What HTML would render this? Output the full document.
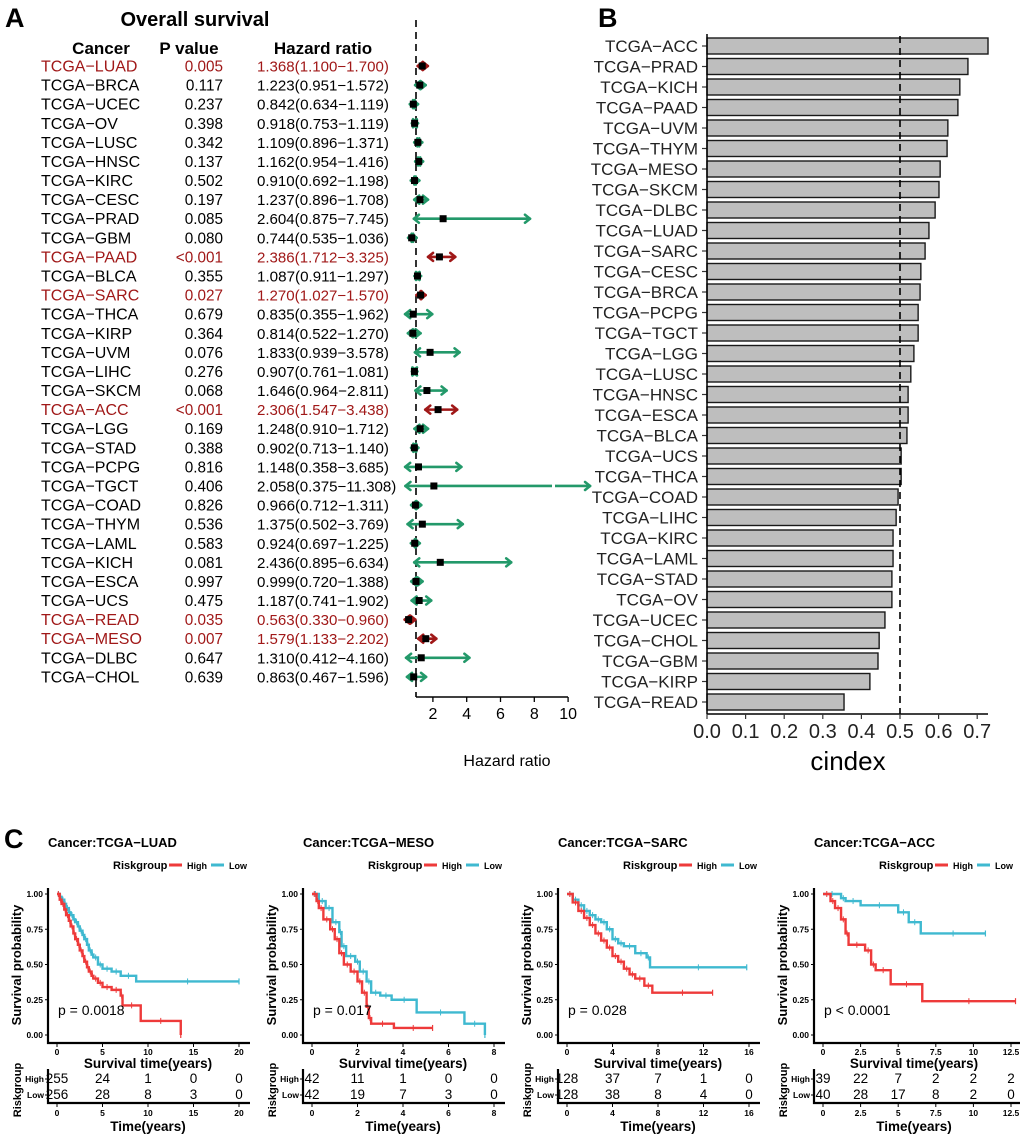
<!DOCTYPE html>
<html><head><meta charset="utf-8">
<style>
html,body{margin:0;padding:0;background:#fff;}
svg{display:block;font-family:"Liberation Sans",Arial,sans-serif;}
</style></head>
<body>
<svg id="fig" width="1020" height="1135" viewBox="0 0 1020 1135" xmlns="http://www.w3.org/2000/svg"></svg>
<script>
// ---------- Panel A data ----------
const cancersA = ['LUAD','BRCA','UCEC','OV','LUSC','HNSC','KIRC','CESC','PRAD','GBM','PAAD','BLCA','SARC','THCA','KIRP','UVM','LIHC','SKCM','ACC','LGG','STAD','PCPG','TGCT','COAD','THYM','LAML','KICH','ESCA','UCS','READ','MESO','DLBC','CHOL'];
const pvalsA = ['0.005','0.117','0.237','0.398','0.342','0.137','0.502','0.197','0.085','0.080','<0.001','0.355','0.027','0.679','0.364','0.076','0.276','0.068','<0.001','0.169','0.388','0.816','0.406','0.826','0.536','0.583','0.081','0.997','0.475','0.035','0.007','0.647','0.639'];
const hrA = [1.368,1.223,0.842,0.918,1.109,1.162,0.910,1.237,2.604,0.744,2.386,1.087,1.270,0.835,0.814,1.833,0.907,1.646,2.306,1.248,0.902,1.148,2.058,0.966,1.375,0.924,2.436,0.999,1.187,0.563,1.579,1.310,0.863];
const loA = [1.100,0.951,0.634,0.753,0.896,0.954,0.692,0.896,0.875,0.535,1.712,0.911,1.027,0.355,0.522,0.939,0.761,0.964,1.547,0.910,0.713,0.358,0.375,0.712,0.502,0.697,0.895,0.720,0.741,0.330,1.133,0.412,0.467];
const hiA = [1.700,1.572,1.119,1.119,1.371,1.416,1.198,1.708,7.745,1.036,3.325,1.297,1.570,1.962,1.270,3.578,1.081,2.811,3.438,1.712,1.140,3.685,11.308,1.311,3.769,1.225,6.634,1.388,1.902,0.960,2.202,4.160,1.596];
const hrTicks = [2,4,6,8,10];
// ---------- Panel B data ----------
const cancersB = ['ACC','PRAD','KICH','PAAD','UVM','THYM','MESO','SKCM','DLBC','LUAD','SARC','CESC','BRCA','PCPG','TGCT','LGG','LUSC','HNSC','ESCA','BLCA','UCS','THCA','COAD','LIHC','KIRC','LAML','STAD','OV','UCEC','CHOL','GBM','KIRP','READ'];
const cindexB = [0.728,0.676,0.655,0.650,0.624,0.622,0.604,0.601,0.591,0.575,0.565,0.554,0.552,0.547,0.547,0.536,0.528,0.521,0.521,0.518,0.503,0.503,0.495,0.490,0.482,0.482,0.479,0.479,0.461,0.446,0.443,0.422,0.355];
const cTicks = [0,0.1,0.2,0.3,0.4,0.5,0.6,0.7];
// ---------- Panel C data ----------
const kmTitles = ['TCGA-LUAD','TCGA-MESO','TCGA-SARC','TCGA-ACC'];
const kmPvals = ['p = 0.0018','p = 0.017','p = 0.028','p < 0.0001'];
const kmXmax = [20,8,16,12.5];
const kmXticks = [[0,5,10,15,20],[0,2,4,6,8],[0,4,8,12,16],[0,2.5,5,7.5,10,12.5]];
const riskHigh = [[255,24,1,0,0],[42,11,1,0,0],[128,37,7,1,0],[39,22,7,2,2,2]];
const riskLow = [[256,28,8,3,0],[42,19,7,3,0],[128,38,8,4,0],[40,28,17,8,2,0]];
const luadHighT=[0,0.3,0.5,0.8,1,1.3,1.5,1.8,2,2.3,2.5,2.8,3,3.3,3.5,3.8,4,4.5,5,6,7,7.2,9.2,13.6], luadHighS=[1,0.96,0.93,0.89,0.85,0.81,0.77,0.72,0.68,0.64,0.6,0.56,0.52,0.48,0.45,0.42,0.4,0.37,0.34,0.32,0.28,0.21,0.1,0];
const luadLowT=[0,0.3,0.5,0.8,1,1.3,1.5,1.8,2,2.3,2.5,2.8,3,3.3,3.5,3.8,4,4.5,5,6,7,8.7,20], luadLowS=[1,0.98,0.96,0.93,0.9,0.87,0.85,0.82,0.8,0.77,0.74,0.71,0.68,0.64,0.6,0.57,0.55,0.5,0.47,0.45,0.42,0.38,0.38];
const mesoHighT=[0,0.2,0.3,0.5,0.8,1,1.2,1.4,1.7,2,2.2,2.4,2.5,2.6,3.6,5.3], mesoHighS=[1,0.95,0.9,0.82,0.75,0.68,0.58,0.5,0.45,0.38,0.3,0.2,0.12,0.08,0.05,0.05];
const mesoLowT=[0,0.3,0.6,0.9,1.2,1.3,1.5,1.9,2.1,2.4,2.6,3,3.5,4.6,6.7,7.6], mesoLowS=[1,0.95,0.9,0.8,0.73,0.63,0.56,0.52,0.45,0.38,0.3,0.28,0.25,0.16,0.08,0];
const sarcHighT=[0,0.5,1,1.5,2,2.5,3,3.5,4,4.5,5,5.5,6,6.8,7.5,12.8], sarcHighS=[1,0.94,0.88,0.83,0.78,0.72,0.67,0.62,0.56,0.52,0.47,0.43,0.4,0.35,0.3,0.3];
const sarcLowT=[0,0.5,1,1.5,2,2.5,3,3.5,4,4.5,5,6,7,7.3,15.8], sarcLowS=[1,0.96,0.92,0.88,0.85,0.82,0.8,0.75,0.68,0.65,0.63,0.58,0.55,0.48,0.48];
const accHighT=[0,0.5,0.8,1.2,1.5,1.7,2.8,3.2,3.5,4.5,6.6,12.8], accHighS=[1,0.95,0.9,0.82,0.72,0.64,0.6,0.5,0.46,0.36,0.24,0.24];
const accLowT=[0,1.2,1.5,2.5,5,5.7,6.5,10.8], accLowS=[1,0.97,0.95,0.92,0.87,0.8,0.72,0.72];
const kmHigh=[[luadHighT,luadHighS],[mesoHighT,mesoHighS],[sarcHighT,sarcHighS],[accHighT,accHighS]];
const kmLow=[[luadLowT,luadLowS],[mesoLowT,mesoLowS],[sarcLowT,sarcLowS],[accLowT,accLowS]];

const NS='http://www.w3.org/2000/svg';
const svg=document.getElementById('fig');
function mk(tag,attrs,parent){const e=document.createElementNS(NS,tag);for(const k in attrs)e.setAttribute(k,attrs[k]);(parent||svg).appendChild(e);return e;}
function tx(str,attrs,parent){const e=mk('text',attrs,parent);e.textContent=str;return e;}
const M='\u2212';
const RED='#A01818', GREEN='#23996A';

// ================= PANEL A =================
const gA=mk('g',{});


let t;
t=tx('A',{x:5,y:27,'font-size':27,'font-weight':'bold'},gA);


t=tx('Overall survival',{x:195,y:26,'font-size':20,'font-weight':'bold','text-anchor':'middle'},gA);


t=tx('Cancer',{x:101,y:54,'font-size':17,'font-weight':'bold','text-anchor':'middle'},gA);


t=tx('P value',{x:189,y:54,'font-size':17,'font-weight':'bold','text-anchor':'middle'},gA);


t=tx('Hazard ratio',{x:323,y:54,'font-size':17,'font-weight':'bold','text-anchor':'middle'},gA);



const rowY=i=>66+i*19.09;
const hx=v=>416+(v-1)*16.9;
const fmt=v=>v.toFixed(3);
let ln=mk('line',{x1:416,y1:20,x2:416,y2:697,stroke:'#000','stroke-width':1.6,'stroke-dasharray':'7,5'},gA);


cancersA.forEach((c,i)=>{
  const p=pvalsA[i];
  const sig=p.startsWith('<')||parseFloat(p)<0.05;
  const col=sig?RED:'#000';
  const y=rowY(i);
  let e=tx('TCGA'+M+c,{x:41,y:y+5.5,'font-size':16,fill:col},gA);
  
  
  e=tx(p,{x:223,y:y+5.5,'font-size':15.3,'text-anchor':'end',fill:col},gA);
  
  
  const s=fmt(hrA[i])+'('+fmt(loA[i])+M+fmt(hiA[i])+')';
  e=tx(s,{x:257,y:y+5.5,'font-size':15,fill:col,textLength:(s.length*7.33).toFixed(1),lengthAdjust:'spacingAndGlyphs'},gA);
  
  
  const mc=sig?RED:GREEN;
  const x1=hx(loA[i]), x2=hx(Math.min(hiA[i],11.3)), xm=hx(hrA[i]);
  const g=mk('g',{stroke:mc,'stroke-width':2.6,fill:'none','stroke-linecap':'round','stroke-linejoin':'round'},gA);
  
  
  mk('line',{x1:x1,y1:y,x2:x2,y2:y},g);
  mk('path',{d:`M${x2-5},${y-4} L${x2},${y} L${x2-5},${y+4}`},g);
  mk('path',{d:`M${x1+5},${y-4} L${x1},${y} L${x1+5},${y+4}`},g);
  if(hiA[i]>10.5){
    mk('rect',{x:552,y:y-3,width:3,height:6,fill:'#fff',stroke:'none'},g);
  }
  e=mk('rect',{x:xm-3.5,y:y-3.5,width:7,height:7,fill:'#000'},gA);
  
  
});
ln=mk('line',{x1:416,y1:697,x2:568,y2:697,stroke:'#000','stroke-width':1.5},gA);


hrTicks.forEach(v=>{
  mk('line',{x1:hx(v),y1:697,x2:hx(v),y2:702,stroke:'#000','stroke-width':1.3},gA);
  const e=tx(String(v),{x:hx(v),y:719,'font-size':16,'text-anchor':'middle'},gA);
  
  
});
t=tx('Hazard ratio',{x:507,y:766,'font-size':16,'text-anchor':'middle'},gA);



// ================= PANEL B =================
const gB=mk('g',{});


t=tx('B',{x:598,y:27,'font-size':27,'font-weight':'bold'},gB);


const cx=v=>707+v*386;
const bY=i=>46+i*20.5;
cancersB.forEach((c,i)=>{
  const y=bY(i);
  let e=mk('rect',{x:707,y:y-8,width:cx(cindexB[i])-707,height:16,fill:'#BEBEBE',stroke:'#1a1a1a','stroke-width':1.4},gB);
  
  
  mk('line',{x1:702,y1:y,x2:707,y2:y,stroke:'#333','stroke-width':1.2},gB);
  e=tx('TCGA'+M+c,{x:698,y:y+6,'font-size':17,'text-anchor':'end',fill:'#222'},gB);
  
  
});
ln=mk('line',{x1:cx(0.5),y1:36,x2:cx(0.5),y2:714,stroke:'#000','stroke-width':1.6,'stroke-dasharray':'7,5'},gB);


ln=mk('line',{x1:707,y1:34,x2:707,y2:714,stroke:'#000','stroke-width':1.5},gB);


ln=mk('line',{x1:707,y1:714,x2:988,y2:714,stroke:'#000','stroke-width':1.5},gB);


cTicks.forEach(v=>{
  mk('line',{x1:cx(v),y1:714,x2:cx(v),y2:719,stroke:'#333','stroke-width':1.2},gB);
  const e=tx(v.toFixed(1),{x:cx(v),y:738,'font-size':20,'text-anchor':'middle',fill:'#222'},gB);
  
  
});
t=tx('cindex',{x:848,y:770,'font-size':26,'text-anchor':'middle'},gB);



// ================= PANEL C =================
t=tx('C',{x:4,y:848,'font-size':27,'font-weight':'bold'});


const HIGHC='#EE3A3A', LOWC='#3FB9D0';
const axX=[48,303,558,814];
kmTitles.forEach((title,k)=>{
  const ax=axX[k], x0=ax+9, W=(k==3?188:182);
  const sx=v=>x0+v/kmXmax[k]*W;
  const sy=s=>1035-s*141;
  const g=mk('g',{});
  
  
  let e=tx('Cancer:'+title.replace('-',M),{x:ax,y:847,'font-size':13,'font-weight':'bold'},g);
  
  
  const lg=mk('g',{},g);
  
  
  tx('Riskgroup',{x:ax+65,y:869,'font-size':11,'font-weight':'bold'},lg);
  mk('line',{x1:ax+121,y1:865,x2:ax+134,y2:865,stroke:HIGHC,'stroke-width':3},lg);
  tx('High',{x:ax+139,y:869,'font-size':9,'font-weight':'bold'},lg);
  mk('line',{x1:ax+163,y1:865,x2:ax+176,y2:865,stroke:LOWC,'stroke-width':3},lg);
  tx('Low',{x:ax+181,y:869,'font-size':9,'font-weight':'bold'},lg);
  [[kmLow[k],LOWC,'low'],[kmHigh[k],HIGHC,'high']].forEach(([d,col,nm])=>{
    const T=d[0],S=d[1];
    let p=`M${sx(T[0])},${sy(S[0])}`;
    for(let i=1;i<T.length;i++){p+=` H${sx(T[i])} V${sy(S[i])}`;}
    const c=mk('path',{d:p,fill:'none',stroke:col,'stroke-width':2.4},g);
    
    
    for(let i=1;i<T.length;i++){
      const mx=(sx(T[i-1])+sx(T[i]))/2, my=sy(S[i-1]);
      mk('line',{x1:mx,y1:my-3,x2:mx,y2:my+3,stroke:col,'stroke-width':1},g);
    }
    const lx=sx(T[T.length-1]), ly=sy(S[S.length-1]);
    mk('line',{x1:lx,y1:ly-3,x2:lx,y2:ly+3,stroke:col,'stroke-width':1.2},g);
  });
  e=mk('path',{d:`M${ax},888 V1043 H${ax+W+20}`,fill:'none',stroke:'#000','stroke-width':2.2},g);
  
  
  [0,0.25,0.5,0.75,1].forEach(v=>{
    mk('line',{x1:ax-3,y1:sy(v),x2:ax,y2:sy(v),stroke:'#000','stroke-width':1},g);
    tx(v.toFixed(2),{x:ax-5,y:sy(v)+3,'font-size':8.5,'font-weight':'bold','text-anchor':'end'},g);
  });
  kmXticks[k].forEach((v,j)=>{
    const x=sx(v);
    mk('line',{x1:x,y1:1043,x2:x,y2:1047,stroke:'#000','stroke-width':1},g);
    tx(String(v),{x:x,y:1055,'font-size':8.5,'font-weight':'bold','text-anchor':'middle'},g);
    mk('line',{x1:x,y1:1103,x2:x,y2:1107,stroke:'#000','stroke-width':1},g);
    tx(String(v),{x:x,y:1116,'font-size':8.5,'font-weight':'bold','text-anchor':'middle'},g);
    let n=tx(String(riskHigh[k][j]),{x:x,y:1083,'font-size':13.5,'text-anchor':'middle'},g);
    
    
    n=tx(String(riskLow[k][j]),{x:x,y:1099,'font-size':13.5,'text-anchor':'middle'},g);
    
    
  });
  e=tx('Survival probability',{x:0,y:0,'font-size':13,'font-weight':'bold','text-anchor':'middle',transform:`translate(${ax-27},965) rotate(-90)`},g);
  
  
  e=tx(kmPvals[k],{x:ax+10,y:1015,'font-size':14},g);
  
  
  e=tx('Survival time(years)',{x:ax+100,y:1068,'font-size':13.5,'font-weight':'bold','text-anchor':'middle'},g);
  
  
  e=mk('path',{d:`M${ax},1069 V1103 H${ax+W+20}`,fill:'none',stroke:'#000','stroke-width':2.2},g);
  
  
  mk('line',{x1:ax-3,y1:1079,x2:ax,y2:1079,stroke:'#000','stroke-width':1},g);
  mk('line',{x1:ax-3,y1:1095,x2:ax,y2:1095,stroke:'#000','stroke-width':1},g);
  tx('High',{x:ax-4,y:1082,'font-size':8.5,'font-weight':'bold','text-anchor':'end'},g);
  tx('Low',{x:ax-4,y:1098,'font-size':8.5,'font-weight':'bold','text-anchor':'end'},g);
  e=tx('Riskgroup',{x:0,y:0,'font-size':11,'font-weight':'bold','text-anchor':'middle',transform:`translate(${ax-27},1090) rotate(-90)`},g);
  
  
  e=tx('Time(years)',{x:ax+100,y:1131,'font-size':13.5,'font-weight':'bold','text-anchor':'middle'},g);
  
  
});
</script>
</body></html>
